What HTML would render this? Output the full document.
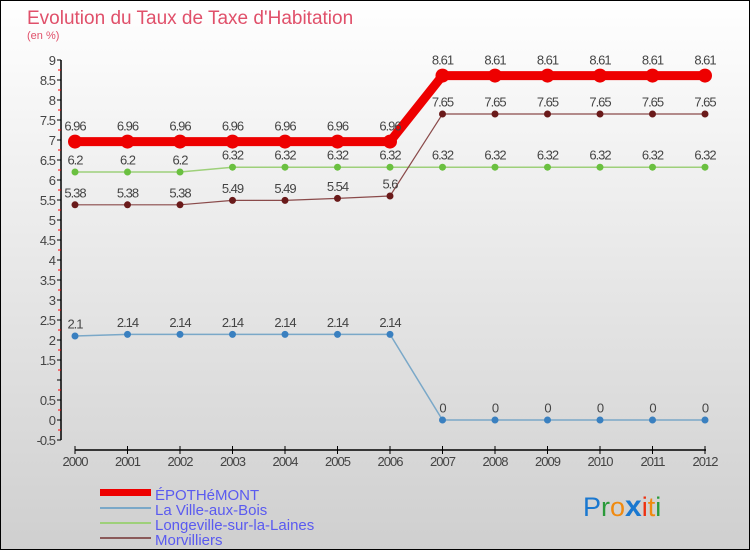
<!DOCTYPE html>
<html><head><meta charset="utf-8"><style>
html,body{margin:0;padding:0}
svg{display:block;font-family:"Liberation Sans",sans-serif}
</style></head><body>
<svg id="s" width="750" height="550" viewBox="0 0 750 550" xmlns="http://www.w3.org/2000/svg">
<defs><linearGradient id="bg" x1="0" y1="0" x2="0" y2="1"><stop offset="0" stop-color="#ffffff"/><stop offset="1" stop-color="#cfcfcf"/></linearGradient></defs>
<rect x="0" y="0" width="750" height="550" fill="url(#bg)"/>
<rect x="0.5" y="0.5" width="749" height="549" fill="none" stroke="#000"/>
<text x="27" y="24" font-size="19" fill="#e0506a">Evolution du Taux de Taxe d'Habitation</text>
<text x="27" y="39" font-size="11" fill="#e0506a">(en %)</text>
<g id="g"></g>
<text x="155" y="500" font-size="15" fill="#5a5af0">ÉPOTHéMONT</text>
<text x="155" y="515" font-size="15" fill="#5a5af0">La Ville-aux-Bois</text>
<text x="155" y="530" font-size="15" fill="#5a5af0">Longeville-sur-la-Laines</text>
<text x="155" y="545" font-size="15" fill="#5a5af0">Morvilliers</text>
<rect x="100" y="489" width="51" height="7" fill="#ee0000"/>
<rect x="100" y="507" width="51" height="2" fill="#7aa8c8"/>
<rect x="100" y="522" width="51" height="2" fill="#9ed07a"/>
<rect x="100" y="537" width="51" height="2" fill="#8a5a5a"/>
<text x="583" y="516" font-size="27" font-family="'Liberation Sans',sans-serif"><tspan fill="#1a78d0">P</tspan><tspan fill="#2a9a3a">r</tspan><tspan fill="#f08a10">o</tspan><tspan fill="#1a78d0" font-weight="bold" font-size="30">x</tspan><tspan fill="#ee3010">i</tspan><tspan fill="#f08a10">t</tspan><tspan fill="#2a9a3a">i</tspan></text>
</svg>
<script>
var g=document.getElementById('g'),h='';
function Y(v){return 420-40*v}
function X(i){return 75+52.5*i}
h+='<line x1="61" y1="60" x2="61" y2="440" stroke="#000" stroke-width="1.5"/>';
for(var v=-0.5;v<=9.01;v+=0.5){var y=Y(v);h+='<line x1="57" y1="'+y+'" x2="61" y2="'+y+'" stroke="#000"/>';
 if(Math.abs(v-1)>0.01)h+='<text x="55" y="'+(y+5)+'" font-size="13" fill="#444" text-anchor="end" letter-spacing="-1">'+v+'</text>';
 if(v<9)h+='<line x1="58" y1="'+(y-10)+'" x2="61" y2="'+(y-10)+'" stroke="#f00"/>';}
h+='<line x1="75" y1="450" x2="706" y2="450" stroke="#000" stroke-width="1.5"/>';
for(var i=0;i<13;i++){var x=X(i);h+='<line x1="'+x+'" y1="446" x2="'+x+'" y2="454" stroke="#000"/>';
 h+='<text x="'+x+'" y="466" font-size="13" fill="#444" text-anchor="middle" letter-spacing="-1">'+(2000+i)+'</text>';}
function series(d,col,w,r,fill,lab){var p=d.map(function(v,i){return X(i)+','+Y(v)}).join(' ');
 h+='<polyline points="'+p+'" fill="none" stroke="'+col+'" stroke-width="'+w+'"/>';
 d.forEach(function(v,i){h+='<circle cx="'+X(i)+'" cy="'+Y(v)+'" r="'+r+'" fill="'+fill+'"/>';
 h+='<text x="'+X(i)+'" y="'+(Y(v)-r-4)+'" font-size="13" fill="#444" text-anchor="middle" letter-spacing="-1">'+lab(v)+'</text>';});}
var L=function(v){return String(v)};
series([2.1,2.14,2.14,2.14,2.14,2.14,2.14,0,0,0,0,0,0],'#7aa8c8',1.5,3.5,'#3a80c0',L);
series([6.2,6.2,6.2,6.32,6.32,6.32,6.32,6.32,6.32,6.32,6.32,6.32,6.32],'#9ed07a',1.5,3.5,'#6ac040',L);
series([5.38,5.38,5.38,5.49,5.49,5.54,5.6,7.65,7.65,7.65,7.65,7.65,7.65],'#8a4a4a',1.2,3.5,'#6a1a1a',L);
series([6.96,6.96,6.96,6.96,6.96,6.96,6.96,8.61,8.61,8.61,8.61,8.61,8.61],'#ee0000',9,7,'#ee0000',L);
g.innerHTML=h;
</script>
</body></html>
